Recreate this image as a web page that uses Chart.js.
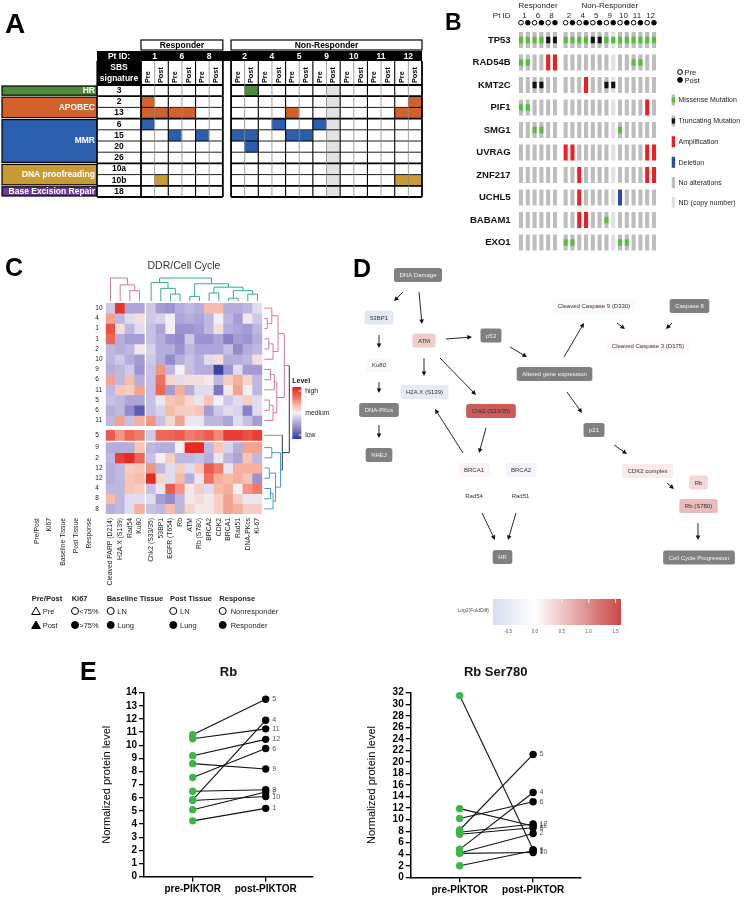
<!DOCTYPE html>
<html>
<head>
<meta charset="utf-8">
<title>DDR / cell cycle figure</title>
<script src="https://cdn.jsdelivr.net/npm/chart.js@4.4.0/dist/chart.umd.min.js"></script>
<style>
  body { margin: 0; background: #fff; }
  #fig { position: relative; width: 744px; height: 897px; overflow: hidden; background: #fff; }
  #fig canvas { position: absolute; }
</style>
</head>
<body>
<div id="fig">
  <canvas id="panelA" width="430" height="205" style="left:0px;top:0px"></canvas>
  <canvas id="panelB" width="314" height="256" style="left:430px;top:0px"></canvas>
  <canvas id="panelC" width="340" height="382" style="left:0px;top:250px"></canvas>
  <canvas id="panelD" width="409" height="385" style="left:335px;top:255px"></canvas>
  <canvas id="panelE1" width="280" height="257" style="left:60px;top:640px"></canvas>
  <canvas id="panelE2" width="280" height="257" style="left:340px;top:640px"></canvas>
</div>
<script>
var FONT = "Arial, 'Liberation Sans', Helvetica, sans-serif";
Chart.defaults.font.family = FONT;
Chart.defaults.color = '#000';
Chart.defaults.animation = false;
Chart.defaults.events = [];
Chart.defaults.plugins.legend.display = false;
Chart.defaults.plugins.tooltip.enabled = false;

// ---- A: SBS signatures (sample order: pt1 Pre, pt1 Post, pt6 Pre, ...) ----
var ptIds = ['1', '6', '8', '2', '4', '5', '9', '10', '11', '12'];
var sampleTypes = ['Pre', 'Post'];
var sbsGroups = ['HR', 'APOBEC', 'MMR', 'DNA proofreading', 'Base Excision Repair'];
var sbsSignatures = ['3', '2', '13', '6', '15', '20', '26', '10a', '10b', '18'];
var sbsSignatureGroup = [0, 1, 1, 2, 2, 2, 2, 3, 3, 4];
var sbsHits = [
  [7],
  [0, 19],
  [0, 1, 2, 3, 10, 18, 19],
  [0, 9, 12],
  [2, 4, 6, 7, 10, 11],
  [7],
  [],
  [],
  [1, 18, 19],
  []
];
var sbsNotSequenced = [13];

// ---- B: alterations  M missense, T truncating, A amplification, D deletion ----
var genes = ['TP53', 'RAD54B', 'KMT2C', 'PIF1', 'SMG1', 'UVRAG', 'ZNF217', 'UCHL5', 'BABAM1', 'EXO1'];
var geneAlterations = [
  'MMMMTTMMMMTTMMMMMMMM',
  'MM..AA..........MM..',
  '..TT.....A..TT......',
  'MM................A.',
  '..MM..........M.....',
  '......AA..........AA',
  '........A.........AA',
  '........A.....D.....',
  '........AA..M.......',
  '......MM......MM....'
];
var cnvNotDone = [13];
var alterationNames = ['Missense Mutation', 'Truncating Mutation', 'Amplification', 'Deletion', 'No alterations', 'ND (copy number)'];

// ---- C: DDR / cell cycle heatmap ----
var heatCols = ['Cleaved PARP (D214)', 'H2A.X (S139)', 'Rad54', 'Ku80', 'Chk2 (S33/35)', '53BP1', 'EGFR (T654)', 'Rb', 'ATM', 'Rb (S780)', 'BRCA2', 'CDK2', 'BRCA1', 'Rad51', 'DNA-PKcs', 'Ki-67'];
var heatRowPt = ['10', '4', '1', '1', '2', '10', '9', '6', '11', '5', '6', '11', '5', '9', '2', '12', '12', '4', '8', '8'];
var heatPrePost = [0, 0, 1, 0, 0, 1, 1, 0, 0, 0, 1, 1, 1, 0, 1, 0, 1, 1, 0, 1];
var heatKi67 = [0, 1, 0, 0, 1, 0, 1, 0, 0, 1, 0, 0, 1, 1, 1, 0, 0, 1, 1, 1];
var heatBaseTissue = [0, 0, 0, 0, 1, 0, 1, 0, 0, 1, 0, 0, 1, 1, 1, 1, 1, 0, 0, 0];
var heatPostTissue = [0, 0, 0, 0, 0, 0, 1, 0, 0, 1, 0, 0, 1, 1, 0, 1, 1, 0, 0, 0];
var heatResponse = [0, 0, 1, 1, 0, 0, 0, 1, 0, 0, 1, 0, 0, 0, 0, 0, 0, 0, 1, 1];
var heatValues = [
  [-0.2, 0.9, -0.4, -0.4, -0.2, -0.45, -0.5, -0.35, -0.3, -0.35, 0.3, 0.3, -0.35, -0.35, -0.3, -0.1],
  [0.4, -0.3, -0.1, 0.1, -0.2, -0.15, 0, -0.4, -0.35, -0.4, -0.3, 0, -0.3, -0.45, 0.05, -0.2],
  [0.75, 0.1, -0.3, -0.1, -0.25, -0.4, 0, -0.5, -0.5, -0.45, -0.3, 0.1, -0.35, -0.4, -0.45, -0.3],
  [0.65, -0.35, -0.45, -0.45, -0.25, -0.35, -0.5, -0.55, -0.2, -0.5, -0.5, -0.4, -0.6, -0.45, -0.5, -0.35],
  [-0.3, -0.35, -0.3, 0.05, -0.15, -0.35, -0.35, -0.5, -0.3, -0.4, -0.4, -0.4, -0.25, -0.55, -0.35, -0.3],
  [-0.3, -0.2, -0.35, -0.45, -0.2, -0.35, -0.55, -0.35, -0.25, -0.35, -0.1, 0.1, -0.35, -0.35, -0.3, 0.1],
  [-0.35, -0.3, -0.2, -0.5, -0.25, 0.45, -0.3, 0, -0.25, -0.35, -0.35, -0.95, -0.5, -0.1, -0.45, -0.45],
  [0.4, -0.3, 0.3, -0.35, -0.25, 0.6, 0.15, -0.1, 0.1, 0.1, 0.05, -0.3, 0.2, 0.35, 0.15, -0.3],
  [-0.3, 0.25, 0.2, 0.4, -0.25, 0.65, -0.45, 0.35, -0.35, -0.1, -0.1, -0.65, 0.05, 0.4, 0, -0.3],
  [-0.25, -0.3, -0.4, -0.4, -0.25, -0.05, 0.25, 0.3, 0.15, -0.05, 0.25, 0, -0.2, -0.1, 0.2, -0.1],
  [-0.35, -0.3, -0.55, -0.8, -0.25, -0.15, 0.3, 0.2, 0.2, 0.25, -0.45, -0.2, -0.1, -0.15, -0.6, -0.1],
  [-0.3, 0.4, -0.25, 0.35, 0.45, -0.25, 0.15, 0.4, -0.05, -0.05, -0.3, -0.3, -0.4, -0.1, -0.25, -0.45],
  [0.7, 0.45, 0.65, 0.55, -0.2, 0.65, 0.65, 0.7, 0.55, 0.6, 0.7, 0.5, 0.85, 0.85, 0.75, 0.85],
  [-0.35, -0.35, -0.35, 0.25, -0.3, -0.35, -0.35, 0, 0.95, 0.95, -0.3, 0.25, -0.15, -0.35, 0.4, 0.4],
  [-0.3, 0.85, 0.95, 0.65, -0.25, 0, 0.2, -0.3, -0.3, -0.25, -0.35, -0.05, -0.3, -0.4, 0.25, -0.3],
  [-0.35, -0.3, 0.2, 0.25, 0.45, -0.3, -0.1, 0.2, -0.1, 0.25, 0.7, 0.55, -0.05, 0.35, 0.35, 0.35],
  [-0.35, -0.3, 0.25, 0.3, 0.95, 0.15, -0.1, 0.3, -0.35, -0.05, 0.6, 0.35, 0.3, 0.35, 0.25, -0.5],
  [-0.3, -0.3, 0.25, 0.2, -0.25, -0.05, 0.7, 0.45, 0.05, 0.2, -0.1, 0.3, 0.35, 0, 0.45, 0.55],
  [0.3, -0.3, -0.1, -0.1, -0.1, -0.45, -0.55, -0.3, 0.05, 0.1, 0.05, 0.2, 0.4, 0.2, -0.05, -0.05],
  [-0.35, -0.3, -0.1, 0.35, -0.25, -0.3, 0.3, -0.3, 0.15, 0.05, 0.05, 0.2, 0.4, 0.35, 0.2, 0.2]
];
var annotNames = ['Pre/Post', 'Ki67', 'Baseline Tissue', 'Post Tissue', 'Response'];
var annotValues = [heatPrePost, heatKi67, heatBaseTissue, heatPostTissue, heatResponse];
// clustering trees: [left, right, height]
var colTreeDDR = [0, [1, [2, 3, 0.45], 0.7], 1.0];
var colTreeCycle = [[4, [5, [6, 7, 0.3], 0.55], 0.8], [[8, 9, 0.2], [[10, 11, 0.35], [[12, 13, 0.12], [14, 15, 0.3], 0.45], 0.6], 0.75], 1.0];
var rowTreePink = [[[0, [1, 2, 0.12], 0.3], [[3, 4, 0.18], 5, 0.35], 0.55], [[[6, 7, 0.25], 8, 0.4], [[9, 10, 0.2], 11, 0.35], 0.5], 0.8];
var rowTreeBlue = [[13, 14, 0.3], [[15, 16, 0.2], [[17, 18, 0.25], 19, 0.35], 0.45], 0.65];

// ---- D: pathway, log2 fold difference per node (null = not measured) ----
var dNodes = ['DNA Damage', '53BP1', 'Ku80', 'DNA-PKcs', 'NHEJ', 'ATM', 'H2A.X (S139)', 'Chk2 (S33/35)', 'p53',
  'Altered gene expression', 'Cleaved Caspase 9 (D330)', 'Caspase 8', 'Cleaved Caspase 3 (D175)', 'p21',
  'CDK2 complex', 'Rb', 'Rb (S780)', 'Cell Cycle Progression', 'BRCA1', 'BRCA2', 'Rad54', 'Rad51', 'HR'];
var dFold = [null, -0.55, 0.08, null, null, 0.45, -0.5, 1.45, null, null, 0.05, null, 0.04, null,
  0.18, 0.35, 0.6, null, 0.1, -0.25, 0, 0, null];
var dLayout = [[20.29, 5.19], [10.76, 16.23], [10.76, 28.57], [10.76, 40.26], [10.76, 51.95], [21.76, 22.21],
  [21.88, 35.58], [38.14, 40.52], [38.14, 20.91], [53.67, 30.91], [63.33, 13.25], [86.67, 13.25], [76.53, 23.64],
  [63.33, 45.45], [76.41, 56.1], [88.88, 59.09], [88.88, 65.19], [89.0, 78.57], [33.99, 55.84], [45.48, 55.84],
  [33.99, 62.47], [45.35, 62.47], [40.95, 78.44]];
var dArrows = [[16.63, 9.61, 14.43, 11.95], [20.54, 9.61, 21.27, 17.92], [10.76, 20.78, 10.76, 24.16],
  [10.76, 32.99, 10.76, 35.84], [10.76, 44.16, 10.76, 47.53], [27.14, 21.82, 33.5, 21.3], [21.76, 26.75, 21.76, 31.43],
  [25.67, 26.75, 34.47, 36.36], [42.79, 23.9, 46.94, 26.49], [55.99, 26.49, 60.88, 17.66], [68.95, 17.66, 70.9, 19.22],
  [82.4, 17.66, 80.93, 19.22], [56.72, 35.58, 60.39, 41.04], [31.3, 51.43, 24.45, 40.0], [36.92, 44.94, 35.21, 51.43],
  [68.22, 49.35, 71.39, 51.69], [81.17, 59.22, 82.89, 60.78], [88.75, 69.61, 88.75, 74.03], [35.94, 67.01, 39.12, 74.03],
  [44.25, 67.01, 42.3, 74.03]];
var foldTicks = [-0.5, 0, 0.5, 1, 1.5];
var foldRange = [-0.78, 1.6];

// ---- E: normalized protein level, pre vs post PIKTOR ----
var timepoints = ['pre-PIKTOR', 'post-PIKTOR'];
var rbPatients = ['5', '11', '12', '9', '6', '8', '4', '10', '2', '1'];
var rbPre = [10.8, 10.5, 9.2, 8.6, 7.55, 6.5, 5.85, 5.8, 5.1, 4.25];
var rbPost = [13.5, 11.25, 10.45, 8.2, 9.75, 6.62, 11.9, 6.1, 6.45, 5.2];
var rbS780Patients = ['9', '11', '6', '5', '12', '8', '4', '2', '10', '1'];
var rbS780Pre = [31.5, 11.9, 10.2, 8.2, 7.8, 7.45, 4.85, 4.2, 4.15, 2.0];
var rbS780Post = [4.8, 8.9, 13.1, 21.3, 9.25, 8.6, 14.7, 7.6, 4.3, 4.6];

// ---------- helpers ----------
function fnt(size, bold) { return (bold ? 'bold ' : '') + size + 'px ' + FONT; }
function label(ctx, s, x, y, f, color, align, base, rot) {
  ctx.save();
  ctx.font = f;
  ctx.fillStyle = color || '#000';
  ctx.textAlign = align || 'center';
  ctx.textBaseline = base || 'middle';
  ctx.translate(x, y);
  if (rot) ctx.rotate(rot);
  ctx.fillText(s, 0, 0);
  ctx.restore();
}
function seg(ctx, x1, y1, x2, y2, color, w) {
  ctx.save();
  ctx.strokeStyle = color;
  ctx.lineWidth = w;
  ctx.beginPath();
  ctx.moveTo(x1, y1);
  ctx.lineTo(x2, y2);
  ctx.stroke();
  ctx.restore();
}
function toRgb(c) { return 'rgb(' + c.map(Math.round).join(',') + ')'; }
function ramp(stops, v) {
  if (v <= stops[0][0]) return toRgb(stops[0][1]);
  for (var i = 1; i < stops.length; i++) {
    if (v <= stops[i][0]) {
      var a = stops[i - 1], b = stops[i], t = (v - a[0]) / (b[0] - a[0]);
      return toRgb([0, 1, 2].map(function (k) { return a[1][k] + (b[1][k] - a[1][k]) * t; }));
    }
  }
  return toRgb(stops[stops.length - 1][1]);
}
function marker(ctx, kind, x, y, r, filled) {
  ctx.save();
  ctx.beginPath();
  if (kind === 'triangle') {
    ctx.moveTo(x, y - r);
    ctx.lineTo(x + r * 0.866, y + r * 0.5);
    ctx.lineTo(x - r * 0.866, y + r * 0.5);
    ctx.closePath();
  } else {
    ctx.arc(x, y, r, 0, Math.PI * 2);
  }
  ctx.fillStyle = filled ? '#000' : '#fff';
  ctx.fill();
  ctx.strokeStyle = '#000';
  ctx.lineWidth = 1;
  ctx.stroke();
  ctx.restore();
}
function hiddenLinear(min, max, reverse) {
  return { type: 'linear', display: false, offset: false, min: min, max: max, reverse: !!reverse,
    ticks: { display: false }, afterBuildTicks: function (s) { s.ticks = []; } };
}
function drawTree(ctx, node, leafPx, hPx, alongX, color) {
  if (typeof node === 'number') return { p: leafPx(node), h: hPx(0) };
  var a = drawTree(ctx, node[0], leafPx, hPx, alongX, color);
  var b = drawTree(ctx, node[1], leafPx, hPx, alongX, color);
  var h = hPx(node[2]);
  ctx.save();
  ctx.strokeStyle = color;
  ctx.lineWidth = 1;
  ctx.beginPath();
  if (alongX) {
    ctx.moveTo(a.p, a.h); ctx.lineTo(a.p, h); ctx.lineTo(b.p, h); ctx.lineTo(b.p, b.h);
  } else {
    ctx.moveTo(a.h, a.p); ctx.lineTo(h, a.p); ctx.lineTo(h, b.p); ctx.lineTo(b.h, b.p);
  }
  ctx.stroke();
  ctx.restore();
  return { p: (a.p + b.p) / 2, h: h };
}

// ---------- panel A ----------
function aCol(i) { return i + (i >= 6 ? 0.6 : 0) + 0.5; }
var aGroupColors = ['#4f8b3b', '#d2612a', '#2b5fae', '#c99b34', '#6b3b98'];
var aDatasets = sbsSignatures.map(function (sig, r) {
  var data = [], colors = [];
  for (var i = 0; i < ptIds.length * 2; i++) {
    data.push({ x: aCol(i), y: [r, r + 1] });
    if (sbsHits[r].indexOf(i) >= 0) colors.push(aGroupColors[sbsSignatureGroup[r]]);
    else if (sbsNotSequenced.indexOf(i) >= 0) colors.push('#e2e2e2');
    else colors.push('#ffffff');
  }
  return { data: data, backgroundColor: colors, borderWidth: 0, grouped: false,
    categoryPercentage: 1, barPercentage: 1 };
});

var sbsTable = {
  id: 'sbsTable',
  afterDatasetsDraw: function (chart) {
    var ctx = chart.ctx, a = chart.chartArea, xs = chart.scales.x, ys = chart.scales.y;
    var X = function (v) { return xs.getPixelForValue(v); };
    var Y = function (v) { return ys.getPixelForValue(v); };
    var top = a.top, bot = a.bottom, left = a.left;
    var hdrTop = top - 24, idTop = top - 34;
    var regions = [[0, 6], [6.6, 20.6]];
    var groupEdges = [0];
    sbsSignatureGroup.forEach(function (g, r) { if (r > 0 && g !== sbsSignatureGroup[r - 1]) groupEdges.push(r); });
    groupEdges.push(sbsSignatures.length);

    label(ctx, 'A', 5, 33, fnt(28, true), '#000', 'left', 'alphabetic');

    [['Responder', 0, 6], ['Non-Responder', 6.6, 20.6]].forEach(function (h) {
      ctx.save();
      ctx.strokeStyle = '#000';
      ctx.lineWidth = 1.2;
      ctx.strokeRect(X(h[1]), top - 45, X(h[2]) - X(h[1]), 10);
      ctx.restore();
      label(ctx, h[0], (X(h[1]) + X(h[2])) / 2, top - 39.7, fnt(8.5, true));
    });

    ctx.fillStyle = '#000';
    ctx.fillRect(left - 44, idTop, a.right - left + 44, 10);
    ctx.fillRect(left - 44, hdrTop, 44, top - hdrTop);
    label(ctx, 'Pt ID:', left - 22, idTop + 5.3, fnt(8.5, true), '#fff');
    ptIds.forEach(function (p, k) { label(ctx, p, X(aCol(2 * k) + 0.5), idTop + 5.3, fnt(8.5, true), '#fff'); });
    label(ctx, 'SBS', left - 22, hdrTop + 7, fnt(8.5, true), '#fff');
    label(ctx, 'signature', left - 22, hdrTop + 17.5, fnt(8.5, true), '#fff');
    for (var i = 0; i < ptIds.length * 2; i++) {
      label(ctx, sampleTypes[i % 2], X(aCol(i)), top - 2, fnt(7.3, true), '#000', 'left', 'middle', -Math.PI / 2);
    }

    for (var g = 0; g < groupEdges.length - 1; g++) {
      var y0 = Y(groupEdges[g]), y1 = Y(groupEdges[g + 1]);
      ctx.fillStyle = aGroupColors[g];
      ctx.fillRect(left - 139, y0 + 1, 95, y1 - y0 - 2);
      ctx.save();
      ctx.strokeStyle = '#000';
      ctx.lineWidth = 1.2;
      ctx.strokeRect(left - 139, y0 + 1, 95, y1 - y0 - 2);
      ctx.restore();
      label(ctx, sbsGroups[g], left - 46, (y0 + y1) / 2, fnt(8.5, true), '#fff', 'right');
    }
    sbsSignatures.forEach(function (s, r) { label(ctx, s, left - 22, (Y(r) + Y(r + 1)) / 2, fnt(8.5, true)); });

    for (var r = 0; r <= sbsSignatures.length; r++) {
      var w = groupEdges.indexOf(r) >= 0 ? 1.8 : 0.9;
      var yy = Y(r);
      seg(ctx, left - 44, yy, left, yy, '#000', w);
      regions.forEach(function (rg) { seg(ctx, X(rg[0]), yy, X(rg[1]), yy, '#000', w); });
    }
    regions.forEach(function (rg) {
      var n = Math.round(rg[1] - rg[0]);
      for (var k = 0; k <= n; k++) {
        var x = X(rg[0] + k);
        var edge = k === 0 || k === n;
        var ptEdge = k % 2 === 0;
        seg(ctx, x, hdrTop, x, bot, ptEdge ? '#000' : '#8a8a8a', edge ? 1.8 : (ptEdge ? 1.1 : 0.8));
      }
    });
    seg(ctx, left - 44, hdrTop, left - 44, bot, '#000', 1.2);
  }
};

new Chart(document.getElementById('panelA'), {
  type: 'bar',
  data: { datasets: aDatasets },
  options: {
    responsive: false,
    layout: { padding: { left: 141, right: 8, top: 85, bottom: 8 } },
    scales: { x: hiddenLinear(0, 20.6), y: hiddenLinear(0, sbsSignatures.length, true) }
  },
  plugins: [sbsTable]
});

// ---------- panel B ----------
function bCol(i) { return i + (i >= 6 ? 0.57 : 0); }
var bColors = { none: '#bdbdbd', nd: '#e1e1e1', M: '#55bf3b', T: '#111111', A: '#f01e24', D: '#2b4ba6' };
var bBg = [], bBgColors = [], bMarks = [], bMarkColors = [];
genes.forEach(function (g, gi) {
  var codes = geneAlterations[gi];
  for (var i = 0; i < codes.length; i++) {
    var c = codes.charAt(i);
    bBg.push({ x: bCol(i), y: [gi - 0.36, gi + 0.36] });
    bBgColors.push(c === 'A' ? bColors.A : c === 'D' ? bColors.D : (cnvNotDone.indexOf(i) >= 0 ? bColors.nd : bColors.none));
    if (c === 'M' || c === 'T') {
      bMarks.push({ x: bCol(i), y: [gi - 0.14, gi + 0.14] });
      bMarkColors.push(bColors[c]);
    }
  }
});

var oncoPlot = {
  id: 'oncoPlot',
  afterDatasetsDraw: function (chart) {
    var ctx = chart.ctx, a = chart.chartArea, xs = chart.scales.x, ys = chart.scales.y;
    var X = function (v) { return xs.getPixelForValue(v); };
    var Y = function (v) { return ys.getPixelForValue(v); };
    label(ctx, 'B', 15, 29.5, fnt(23, true), '#000', 'left', 'alphabetic');
    label(ctx, 'Responder', (X(bCol(0)) + X(bCol(5))) / 2, 5.5, fnt(8), '#222');
    label(ctx, 'Non-Responder', (X(bCol(6)) + X(bCol(19))) / 2, 5.5, fnt(8), '#222');
    label(ctx, 'Pt ID', X(-0.5) - 7, 15.7, fnt(8), '#222', 'right');
    ptIds.forEach(function (p, k) {
      label(ctx, p, (X(bCol(2 * k)) + X(bCol(2 * k + 1))) / 2, 15.7, fnt(8), '#222');
    });
    for (var i = 0; i < ptIds.length * 2; i++) marker(ctx, 'circle', X(bCol(i)), 22.7, 2.3, i % 2 === 1);
    genes.forEach(function (g, gi) { label(ctx, g, a.left - 7, Y(gi), fnt(9.5, true), '#111', 'right'); });

    marker(ctx, 'circle', 250, 72, 2.4, false);
    marker(ctx, 'circle', 250, 80, 2.4, true);
    label(ctx, 'Pre', 254.5, 72.5, fnt(7.5), '#222', 'left');
    label(ctx, 'Post', 254.5, 80.5, fnt(7.5), '#222', 'left');
    var keyY = [100, 121, 141.7, 162.3, 182.7, 202.5];
    var keyFill = [bColors.none, bColors.none, bColors.A, bColors.D, bColors.none, bColors.nd];
    var keyMark = [bColors.M, bColors.T, null, null, null, null];
    alterationNames.forEach(function (n, k) {
      ctx.fillStyle = keyFill[k];
      ctx.fillRect(241.7, keyY[k] - 5.5, 3.4, 11);
      if (keyMark[k]) {
        ctx.fillStyle = keyMark[k];
        ctx.fillRect(241.7, keyY[k] - 2.6, 3.4, 5.2);
      }
      label(ctx, n, 248.5, keyY[k] + 0.5, fnt(7), '#222', 'left');
    });
  }
};

new Chart(document.getElementById('panelB'), {
  type: 'bar',
  data: {
    datasets: [
      { data: bMarks, backgroundColor: bMarkColors, borderWidth: 0, grouped: false, order: 0,
        categoryPercentage: 1, barPercentage: 0.6 },
      { data: bBg, backgroundColor: bBgColors, borderWidth: 0, grouped: false, order: 1,
        categoryPercentage: 1, barPercentage: 0.6 }
    ]
  },
  options: {
    responsive: false,
    layout: { padding: { left: 87.6, right: 86.6, top: 28.75, bottom: 2.25 } },
    scales: { x: hiddenLinear(-0.5, 20.07), y: hiddenLinear(-0.5, genes.length - 0.5, true) }
  },
  plugins: [oncoPlot]
});

// ---------- panel C ----------
function cCol(c) { return c + (c >= 4 ? 0.2 : 0) + 0.5; }
function cRow(r) { return r + (r >= 12 ? 0.45 : 0) + (r >= 13 ? 0.2 : 0); }
var heatStops = [[-1, [45, 58, 160]], [-0.55, [148, 138, 204]], [-0.25, [198, 192, 228]], [0, [243, 239, 243]],
  [0.3, [246, 188, 170]], [0.6, [238, 112, 94]], [1, [229, 32, 28]]];
var annX = [-7.1, -5.85, -4.4, -3.05, -1.7];
var treeColors = { pink: '#d4789d', teal: '#35a999', green: '#62b34b', blue: '#3e9bd8', root: '#333333' };

var cDatasets = heatValues.map(function (row, r) {
  return {
    data: row.map(function (v, c) { return { x: cCol(c), y: [cRow(r), cRow(r) + 1] }; }),
    backgroundColor: row.map(function (v) { return ramp(heatStops, v); }),
    borderWidth: 0, grouped: false, categoryPercentage: 1, barPercentage: 1
  };
});
annotValues.forEach(function (vals, k) {
  cDatasets.push({
    type: 'line', showLine: false, clip: false,
    data: vals.map(function (v, r) { return { x: annX[k], y: cRow(r) + 0.5 }; }),
    pointStyle: k === 0 ? 'triangle' : 'circle',
    pointRadius: k === 0 ? 5.4 : 3.5,
    pointBackgroundColor: vals.map(function (v) { return v ? '#000' : '#fff'; }),
    pointBorderColor: '#000', pointBorderWidth: 1
  });
});

var heatPlot = {
  id: 'heatPlot',
  afterDatasetsDraw: function (chart) {
    var ctx = chart.ctx, a = chart.chartArea, xs = chart.scales.x, ys = chart.scales.y;
    var X = function (v) { return xs.getPixelForValue(v); };
    var Y = function (v) { return ys.getPixelForValue(v); };
    label(ctx, 'C', 5, 25.5, fnt(25, true), '#000', 'left', 'alphabetic');
    label(ctx, 'DDR/Cell Cycle', (a.left + a.right) / 2, 16, fnt(10.5), '#333');

    var colH = function (h) { return a.top - 2 - h * 23; };
    var colLeaf = function (c) { return X(cCol(c)); };
    drawTree(ctx, colTreeDDR, colLeaf, colH, true, treeColors.pink);
    drawTree(ctx, colTreeCycle, colLeaf, colH, true, treeColors.teal);
    var rowH = function (h) { return a.right + 2 + h * 25; };
    var rowLeaf = function (r) { return Y(cRow(r) + 0.5); };
    var pk = drawTree(ctx, rowTreePink, rowLeaf, rowH, false, treeColors.pink);
    var bl = drawTree(ctx, rowTreeBlue, rowLeaf, rowH, false, treeColors.blue);
    var s = rowLeaf(12), gbH = rowH(0.72), rootH = rowH(1);
    seg(ctx, rowH(0), s, gbH, s, treeColors.green, 1);
    seg(ctx, bl.h, bl.p, gbH, bl.p, treeColors.blue, 1);
    seg(ctx, gbH, s, gbH, bl.p, treeColors.root, 1);
    var gb = (s + bl.p) / 2;
    seg(ctx, pk.h, pk.p, rootH, pk.p, treeColors.pink, 1);
    seg(ctx, gbH, gb, rootH, gb, treeColors.root, 1);
    seg(ctx, rootH, pk.p, rootH, gb, treeColors.root, 1);

    heatCols.forEach(function (c, i) {
      label(ctx, c, X(cCol(i)), a.bottom + 4, fnt(6.8), '#222', 'right', 'middle', -Math.PI / 2);
    });
    annotNames.forEach(function (n, k) {
      label(ctx, n, X(annX[k]), a.bottom + 4, fnt(6.8), '#222', 'right', 'middle', -Math.PI / 2);
    });
    heatRowPt.forEach(function (p, r) { label(ctx, p, X(annX[4]) + 6, Y(cRow(r) + 0.5), fnt(6.5), '#222', 'left'); });

    // colour key
    var lx = a.right + 30, ly0 = a.top + 84, ly1 = a.top + 136;
    label(ctx, 'Level', lx, ly0 - 6, fnt(7, true), '#111', 'left');
    var grad = ctx.createLinearGradient(0, ly0, 0, ly1);
    heatStops.forEach(function (st) { grad.addColorStop((1 - st[0]) / 2, toRgb(st[1])); });
    ctx.fillStyle = grad;
    ctx.fillRect(lx, ly0, 9, ly1 - ly0);
    [['high', 0.85], ['medium', 0], ['low', -0.85]].forEach(function (k) {
      var yy = ly0 + (1 - k[1]) / 2 * (ly1 - ly0);
      seg(ctx, lx + 6.5, yy, lx + 9, yy, '#fff', 1);
      label(ctx, k[0], lx + 13, yy, fnt(6.8), '#222', 'left');
    });

    // annotation key
    var hx = [31.7, 71.7, 106.7, 170, 219.3];
    var sx = [36, 75, 110.7, 173.3, 222.7];
    var tx = [42.7, 79.3, 117.3, 180, 230.7];
    var openTxt = ['Pre', '<75%', 'LN', 'LN', 'Nonresponder'];
    var fillTxt = ['Post', '>75%', 'Lung', 'Lung', 'Responder'];
    var ky = a.bottom + 85;
    annotNames.forEach(function (n, k) {
      label(ctx, n, hx[k], ky, fnt(7.5, true), '#222', 'left');
      var kind = k === 0 ? 'triangle' : 'circle', rad = k === 0 ? 5 : 3.5;
      marker(ctx, kind, sx[k], ky + 12 + (k === 0 ? 1 : 0), rad, false);
      marker(ctx, kind, sx[k], ky + 26 + (k === 0 ? 1 : 0), rad, true);
      label(ctx, openTxt[k], tx[k], ky + 12.5, fnt(7.5), '#222', 'left');
      label(ctx, fillTxt[k], tx[k], ky + 26.5, fnt(7.5), '#222', 'left');
    });
  }
};

new Chart(document.getElementById('panelC'), {
  type: 'bar',
  data: { datasets: cDatasets },
  options: {
    responsive: false,
    layout: { padding: { left: 105.7, right: 77.7, top: 53, bottom: 118 } },
    scales: { x: hiddenLinear(0, 16.2), y: hiddenLinear(0, 20.65, true) }
  },
  plugins: [heatPlot]
});

// ---------- panel D ----------
var foldStops = [[foldRange[0], [214, 222, 240]], [0, [255, 255, 255]], [foldRange[1], [200, 74, 71]]];
function arrow(ctx, x1, y1, x2, y2) {
  var ang = Math.atan2(y2 - y1, x2 - x1), L = 4.6, W = 2.3;
  var c = Math.cos(ang), s = Math.sin(ang);
  ctx.save();
  ctx.strokeStyle = '#111';
  ctx.fillStyle = '#111';
  ctx.lineWidth = 0.9;
  ctx.beginPath();
  ctx.moveTo(x1, y1);
  ctx.lineTo(x2 - c * L * 0.8, y2 - s * L * 0.8);
  ctx.stroke();
  ctx.beginPath();
  ctx.moveTo(x2, y2);
  ctx.lineTo(x2 - c * L + s * W, y2 - s * L - c * W);
  ctx.lineTo(x2 - c * L - s * W, y2 - s * L + c * W);
  ctx.closePath();
  ctx.fill();
  ctx.restore();
}
var pathwayPlot = {
  id: 'pathwayPlot',
  afterDatasetsDraw: function (chart) {
    var ctx = chart.ctx, xs = chart.scales.x, ys = chart.scales.y;
    var X = function (v) { return xs.getPixelForValue(v); };
    var Y = function (v) { return ys.getPixelForValue(v); };
    label(ctx, 'D', 18, 21.5, fnt(25, true), '#000', 'left', 'alphabetic');
    dArrows.forEach(function (ar) { arrow(ctx, X(ar[0]), Y(ar[1]), X(ar[2]), Y(ar[3])); });
    dNodes.forEach(function (n, i) {
      var cx = X(dLayout[i][0]), cy = Y(dLayout[i][1]);
      ctx.font = fnt(6);
      var w = ctx.measureText(n).width + 11, h = 14, r = 2.5;
      var x0 = cx - w / 2, y0 = cy - h / 2;
      ctx.beginPath();
      ctx.moveTo(x0 + r, y0);
      ctx.lineTo(x0 + w - r, y0);
      ctx.quadraticCurveTo(x0 + w, y0, x0 + w, y0 + r);
      ctx.lineTo(x0 + w, y0 + h - r);
      ctx.quadraticCurveTo(x0 + w, y0 + h, x0 + w - r, y0 + h);
      ctx.lineTo(x0 + r, y0 + h);
      ctx.quadraticCurveTo(x0, y0 + h, x0, y0 + h - r);
      ctx.lineTo(x0, y0 + r);
      ctx.quadraticCurveTo(x0, y0, x0 + r, y0);
      ctx.closePath();
      ctx.fillStyle = dFold[i] === null ? '#808080' : ramp(foldStops, dFold[i]);
      ctx.fill();
      label(ctx, n, cx, cy + 0.5, fnt(6), dFold[i] === null ? '#f2f2f2' : '#333', 'center');
    });

    // fold-change key
    var kx0 = 158, kx1 = 286, ky0 = 344, ky1 = 370;
    var KX = function (v) { return kx0 + (v - foldRange[0]) / (foldRange[1] - foldRange[0]) * (kx1 - kx0); };
    var grad = ctx.createLinearGradient(kx0, 0, kx1, 0);
    foldStops.forEach(function (st) { grad.addColorStop((st[0] - foldRange[0]) / (foldRange[1] - foldRange[0]), toRgb(st[1])); });
    ctx.fillStyle = grad;
    ctx.fillRect(kx0, ky0, kx1 - kx0, ky1 - ky0);
    foldTicks.forEach(function (t) {
      if (t > 0) seg(ctx, KX(t), ky0, KX(t), ky0 + 4, '#fff', 0.8);
      label(ctx, t.toFixed(1), KX(t), ky1 + 7, fnt(4.5), '#555');
    });
    label(ctx, 'Log2(FoldDiff)', kx0 - 4, (ky0 + ky1) / 2 - 1, fnt(5), '#555', 'right');
  }
};
new Chart(document.getElementById('panelD'), {
  type: 'scatter',
  data: { datasets: [{ data: dLayout.map(function (p) { return { x: p[0], y: p[1] }; }), pointRadius: 0 }] },
  options: {
    responsive: false,
    layout: { padding: 0 },
    scales: { x: hiddenLinear(0, 100), y: hiddenLinear(0, 100, true) }
  },
  plugins: [pathwayPlot]
});

// ---------- panel E ----------
function proteinChart(canvasId, title, patients, pre, post, yMax, yStep, geo, letter) {
  var datasets = patients.map(function (p, i) {
    return { data: [{ x: 0, y: pre[i] }, { x: 1, y: post[i] }], showLine: true, borderColor: '#111',
      borderWidth: 1.1, pointRadius: 0, order: 1 };
  });
  datasets.push({ data: pre.map(function (v) { return { x: 0, y: v }; }), pointRadius: 3.7,
    pointBackgroundColor: '#3db54a', pointBorderWidth: 0, order: 0, clip: false });
  datasets.push({ data: post.map(function (v) { return { x: 1, y: v }; }), pointRadius: 3.7,
    pointBackgroundColor: '#000', pointBorderWidth: 0, order: 0, clip: false });
  var deco = {
    id: 'proteinDeco',
    afterDatasetsDraw: function (chart) {
      var ctx = chart.ctx, a = chart.chartArea, xs = chart.scales.x, ys = chart.scales.y;
      label(ctx, title, (a.left + a.right) / 2, a.top - 20.7, fnt(13, true), '#111');
      patients.forEach(function (p, i) {
        label(ctx, p, xs.getPixelForValue(1) + 6.5, ys.getPixelForValue(post[i]), fnt(7.2), '#555', 'left');
      });
      if (letter) label(ctx, letter, 20, 40, fnt(25, true), '#000', 'left', 'alphabetic');
    }
  };
  new Chart(document.getElementById(canvasId), {
    type: 'scatter',
    data: { datasets: datasets },
    options: {
      responsive: false,
      layout: { padding: { left: geo.padLeft, right: geo.padRight, top: 52.7, bottom: 0 } },
      scales: {
        x: {
          type: 'linear', min: -0.667, max: 1.648,
          afterBuildTicks: function (s) { s.ticks = [{ value: 0 }, { value: 1 }]; },
          afterFit: function (s) { s.height = geo.xHeight; },
          ticks: { callback: function (v) { return timepoints[v]; }, font: { size: 10, weight: 'bold' },
            color: '#000', padding: 2, autoSkip: false, maxRotation: 0 },
          grid: { drawOnChartArea: false, tickLength: 5, color: '#000', lineWidth: 1.3 },
          border: { display: true, color: '#000', width: 1.5 }
        },
        y: {
          type: 'linear', min: 0, max: yMax,
          afterFit: function (s) { s.width = geo.yWidth; },
          ticks: { stepSize: yStep, font: { size: 10, weight: 'bold' }, color: '#000', padding: 2, autoSkip: false },
          grid: { drawOnChartArea: false, tickLength: 5, color: '#000', lineWidth: 1.3 },
          border: { display: true, color: '#000', width: 1.5 },
          title: { display: true, text: 'Normalized protein level', font: { size: 11 }, color: '#000',
            padding: { top: 4.4, bottom: 0 } }
        }
      }
    },
    plugins: [deco]
  });
}
proteinChart('panelE1', 'Rb', rbPatients, rbPre, rbPost, 14, 1,
  { padLeft: 36, yWidth: 48, padRight: 27, xHeight: 20.3 }, 'E');
proteinChart('panelE2', 'Rb Ser780', rbS780Patients, rbS780Pre, rbS780Post, 32, 2,
  { padLeft: 21, yWidth: 49.7, padRight: 39.3, xHeight: 19.7 }, null);
</script>
</body>
</html>
